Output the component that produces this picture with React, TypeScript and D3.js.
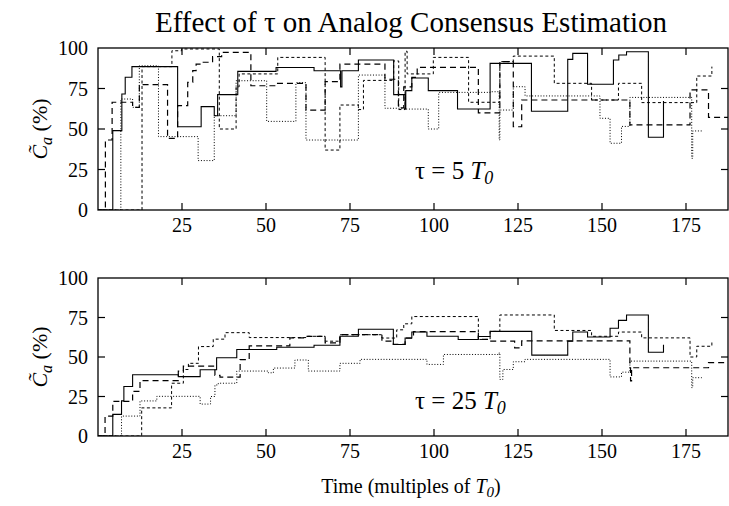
import React from "react";
import * as d3 from "d3";

type P = [number, number];

const xTicks = [25, 50, 75, 100, 125, 150, 175];
const yTicks = [0, 25, 50, 75, 100];

// tau = 5 T0 panel
const topSolid: P[] = [[4.4,49],[7.1,71.6],[8.1,81.9],[10.1,88.5],[23.7,51.4],[30.7,63.8],[34.6,58.2],[35.6,71.2],[41.6,85.6],[53,88],[64.3,86],[72.2,76],[72.6,86],[77.5,92.6],[88,71.2],[91.4,62.3],[91.6,73.7],[93.4,81.5],[98.3,73.7],[107,62.3],[116.7,90.5],[129,61],[139.8,93],[141.3,96.7],[145.7,77.6],[153.4,92.6],[155,95.7],[157.3,97.7],[163.8,44.9],[168.3,67.3]];
const topLong: P[] = [[2.2,43.2],[4.2,66.5],[10.3,63.4],[12.3,77.4],[20.7,44.2],[23.7,64.4],[26.7,78.8],[28.2,86],[29.2,90],[31,91.2],[34.1,94.7],[36.8,97.3],[45.5,76.7],[53,78.2],[61.9,61.7],[67.6,79.2],[72,90],[85.4,80.7],[89.4,63],[91,76],[93.4,81.9],[95,88.1],[113.2,60],[119.6,91.6],[123.6,51.4],[126.1,67.9],[158.3,52.5],[176.2,74.1],[181.7,57.2],[188,57.2]];
const topShort: P[] = [[13.1,88.5],[22,98.3],[24.9,99.4],[36.1,50],[41.1,76],[42,84],[53.5,94.2],[67.6,37],[72,64.8],[77.5,62],[79,80],[88,92],[89.5,62],[91.4,98],[92,84],[99.8,94.2],[110.3,66.5],[119.6,91.6],[123.6,95],[135.8,78.2],[146.9,67.9],[154.9,78.2],[161.8,66.3],[178.2,82.7],[182.7,88.5]];
const topDot: P[] = [[6.8,68.5],[10.3,63.4],[12.3,89],[18,45.3],[29.8,30.5],[34.6,58.2],[41.1,79.8],[50.2,54.7],[58.9,78.6],[61.9,43.2],[77.5,83.3],[85.4,62.8],[91.4,62.3],[98.3,50],[101.4,72.6],[116.7,73],[119.4,43.2],[119.6,61.7],[123.6,76.1],[127.1,70.4],[149.4,56.6],[152.4,41.2],[155.8,51.6],[158.3,69.5],[176.7,31.9],[177,48.8],[179.7,48.8]];

// tau = 25 T0 panel
const botSolid: P[] = [[4.4,13.7],[7,22.2],[7.7,31.3],[10.3,38.8],[23.9,37.6],[30.4,41.9],[35.3,49.5],[41.3,54.7],[53.2,56.2],[64.3,57.4],[72,63.1],[77.5,67.6],[87.9,57.9],[91.4,62],[93.4,65.8],[97.9,63.1],[107.2,61.1],[113.2,63],[116.7,66.2],[129.1,51.2],[139.8,60],[141.3,65.8],[145.7,62.7],[152.4,68.2],[154.9,73.2],[157.3,76.6],[163.8,53],[168.3,57.7]];
const botLong: P[] = [[2.1,12.6],[4.4,21.9],[10.3,28.2],[12.5,35.1],[23.9,41],[25.4,44.2],[34.8,38.4],[36.3,37.3],[42.3,48.3],[45,57],[57.1,62.1],[61.9,63.1],[67.6,59],[72,64.1],[84.5,60],[87.9,58],[91.4,62],[93.9,66],[113.2,61.1],[116.7,60],[124,55.8],[126.1,60.2],[158.3,43.2],[158.5,34.8],[158.8,43.2],[181.7,46.4],[188,46.4]];
const botShort: P[] = [[13,17.8],[21.9,33.4],[25.4,42.1],[26.9,46],[29.9,56.6],[34.3,61.3],[37.8,65.4],[45,62.3],[61.9,63.1],[67.6,60],[72,64.1],[84.5,62],[88.9,67.2],[91,71],[93.4,75.6],[113.2,61.1],[116.7,66.2],[119.6,76.6],[135.8,66.8],[146.9,63.1],[154.9,65.8],[161.8,62.1],[176.2,50],[178.2,56.8],[182.7,60.6]];
const botDot: P[] = [[7,12.6],[12.5,22.2],[17.5,25.1],[30.4,20.2],[33.5,25],[34.8,32.3],[35.8,33.4],[41.3,41.1],[50.7,40],[52.2,43],[58.6,48.1],[62.6,41.1],[72,46],[78,48.5],[97.9,45.3],[102.8,51.6],[119.4,52.7],[119.6,35.8],[120.5,42.1],[123.6,47],[127.1,48.5],[152.4,37.4],[155.8,40.4],[158.3,47.4],[176.7,30.6],[177,36.9],[179.7,36.9]];

const W = 729, H = 506;
const L = 98, R = 728;
const FONT = "'Liberation Serif', 'Times New Roman', serif";

const styles = [
  { dash: "none", w: 1.1 },
  { dash: "6,4", w: 1.2 },
  { dash: "3,2.5", w: 1.0 },
  { dash: "1,1.8", w: 1.0 },
];

const x = d3.scaleLinear().domain([0, 187.5]).range([L, R]);

function Panel({ top, bottom, series, label, id }: { top: number; bottom: number; series: P[][]; label: string; id: string }) {
  const y = d3.scaleLinear().domain([0, 100]).range([bottom, top]);
  const line = d3.line<P>().x(d => x(d[0])).y(d => y(d[1])).curve(d3.curveStepAfter);
  const tl = 7;
  const cy = (top + bottom) / 2;
  return (
    <g>
      <defs>
        <clipPath id={id}>
          <rect x={L} y={top} width={R - L} height={bottom - top} />
        </clipPath>
      </defs>
      <g clipPath={`url(#${id})`}>
        {series.map((s, i) => (
          <path key={i} d={line([[0, 0], ...s]) || ""} fill="none" stroke="#000"
            strokeWidth={styles[i].w} strokeDasharray={styles[i].dash} />
        ))}
      </g>
      <rect x={L} y={top} width={R - L} height={bottom - top} fill="none" stroke="#000" strokeWidth={1.3} />
      {xTicks.map(t => (
        <g key={t}>
          <line x1={x(t)} x2={x(t)} y1={bottom} y2={bottom - tl} stroke="#000" strokeWidth={1.2} />
          <line x1={x(t)} x2={x(t)} y1={top} y2={top + tl} stroke="#000" strokeWidth={1.2} />
          <text x={x(t)} y={bottom + 22} textAnchor="middle" fontSize={20} fontFamily={FONT}>{t}</text>
        </g>
      ))}
      {yTicks.map(v => (
        <g key={v}>
          {v > 0 && v < 100 && <line x1={L} x2={L + tl} y1={y(v)} y2={y(v)} stroke="#000" strokeWidth={1.2} />}
          {v > 0 && v < 100 && <line x1={R} x2={R - tl} y1={y(v)} y2={y(v)} stroke="#000" strokeWidth={1.2} />}
          <text x={L - 10} y={y(v) + 7} textAnchor="end" fontSize={20} fontFamily={FONT}>{v}</text>
        </g>
      ))}
      <text transform={`translate(47,${cy}) rotate(-90)`} textAnchor="middle" fontSize={22} fontFamily={FONT}>
        <tspan fontStyle="italic">{"C\u0303"}</tspan>
        <tspan fontStyle="italic" fontSize={16} dy={5}>a</tspan>
        <tspan dy={-5}>{" (%)"}</tspan>
      </text>
      <text x={415} y={top + 131} fontSize={25} fontFamily={FONT}>
        <tspan>{`\u03c4 = ${label} `}</tspan>
        <tspan fontStyle="italic">T</tspan>
        <tspan fontStyle="italic" fontSize={18} dy={5}>0</tspan>
      </text>
    </g>
  );
}

export default function App() {
  return (
    <svg width={W} height={H} style={{ position: "absolute", left: 0, top: 0, background: "#fff" }}>
      <rect width={W} height={H} fill="#fff" />
      <text x={411} y={32} textAnchor="middle" fontSize={29} fontFamily={FONT}>
        Effect of τ on Analog Consensus Estimation
      </text>
      <Panel top={48} bottom={210} series={[topSolid, topLong, topShort, topDot]} label="5" id="c1" />
      <Panel top={278} bottom={436} series={[botSolid, botLong, botShort, botDot]} label="25" id="c2" />
      <text x={411} y={493} textAnchor="middle" fontSize={20} fontFamily={FONT}>
        <tspan>Time (multiples of </tspan>
        <tspan fontStyle="italic">T</tspan>
        <tspan fontStyle="italic" fontSize={15} dy={4}>0</tspan>
        <tspan dy={-4}>)</tspan>
      </text>
    </svg>
  );
}
